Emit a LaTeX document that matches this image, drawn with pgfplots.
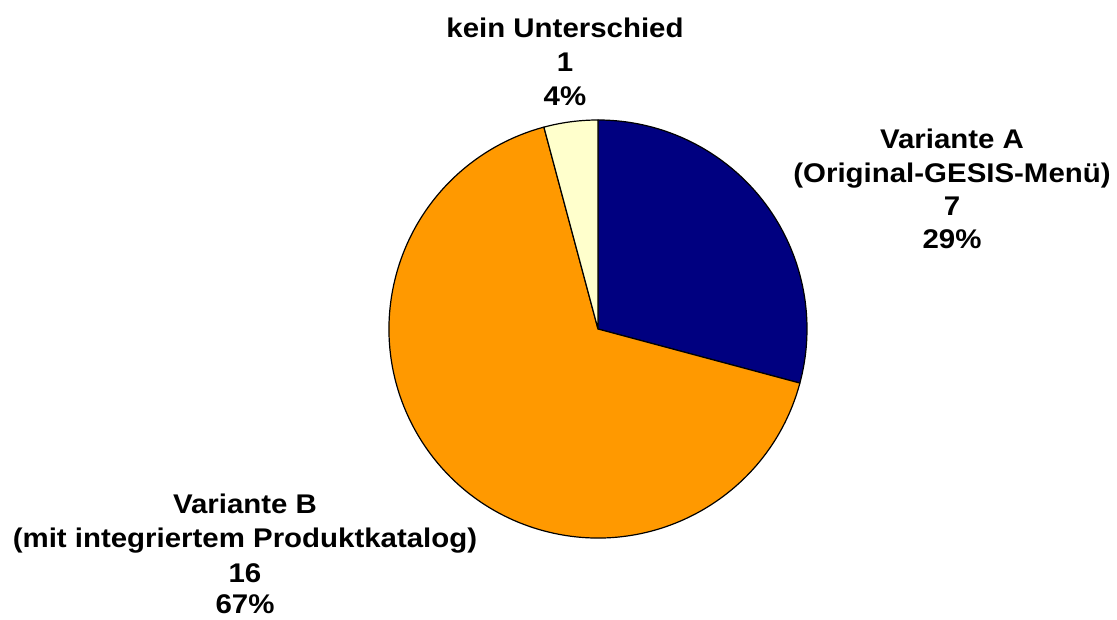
\documentclass[border=0pt]{standalone}
\usepackage{fontspec}
\setmainfont{Liberation Sans}
\newfontfamily\labfont[FakeStretch=1.09]{Liberation Sans}
\usepackage{pgfplots}
\usepackage{pgfplotstable}
\pgfplotsset{compat=1.18}
\definecolor{cA}{HTML}{000080}
\definecolor{cB}{HTML}{FF9900}
\definecolor{cC}{HTML}{FFFFCC}
\pgfplotstableread{
value
7
16
1
}\piedata
\begin{document}
\begin{tikzpicture}
\pgfplotstablegetelem{0}{value}\of\piedata \pgfmathsetmacro\va{\pgfplotsretval}
\pgfplotstablegetelem{1}{value}\of\piedata \pgfmathsetmacro\vb{\pgfplotsretval}
\pgfplotstablegetelem{2}{value}\of\piedata \pgfmathsetmacro\vc{\pgfplotsretval}
\pgfmathsetmacro\tot{\va+\vb+\vc}
\pgfmathsetmacro\aA{90-360*\va/\tot}
\pgfmathsetmacro\aB{\aA-360*\vb/\tot}
\pgfmathsetmacro\aC{\aB-360*\vc/\tot}
\useasboundingbox (0,0) rectangle (1117pt,619pt);
\begin{axis}[at={(0,0)},anchor=south west,scale only axis,
  x=1pt,y=1pt,xmin=0,xmax=1117,ymin=0,ymax=619,hide axis,clip=false]
\filldraw[fill=cA,draw=black,line width=1.2pt,line join=round] (axis cs:598,290) -- ++(90:209pt) arc[start angle=90,end angle=\aA,radius=209pt] -- cycle;
\filldraw[fill=cB,draw=black,line width=1.2pt,line join=round] (axis cs:598,290) -- ++(\aA:209pt) arc[start angle=\aA,end angle=\aB,radius=209pt] -- cycle;
\filldraw[fill=cC,draw=black,line width=1.2pt,line join=round] (axis cs:598,290) -- ++(\aB:209pt) arc[start angle=\aB,end angle=\aC,radius=209pt] -- cycle;
\tikzset{lab/.style={anchor=base,inner sep=0pt,font=\labfont\bfseries\fontsize{27}{33}\selectfont}}
\node[lab] at (axis cs:565,581) {kein Unterschied};
\node[lab] at (axis cs:565,547) {1};
\node[lab] at (axis cs:565,513) {4\%};
\node[lab] at (axis cs:952,470) {Variante A};
\node[lab] at (axis cs:952,436) {(Original-GESIS-Menü)};
\node[lab] at (axis cs:952,403) {7};
\node[lab] at (axis cs:952,370) {29\%};
\node[lab] at (axis cs:245,105) {Variante B};
\node[lab] at (axis cs:245,72) {(mit integriertem Produktkatalog)};
\node[lab] at (axis cs:245,37) {16};
\node[lab] at (axis cs:245,6) {67\%};
\end{axis}
\end{tikzpicture}
\end{document}
